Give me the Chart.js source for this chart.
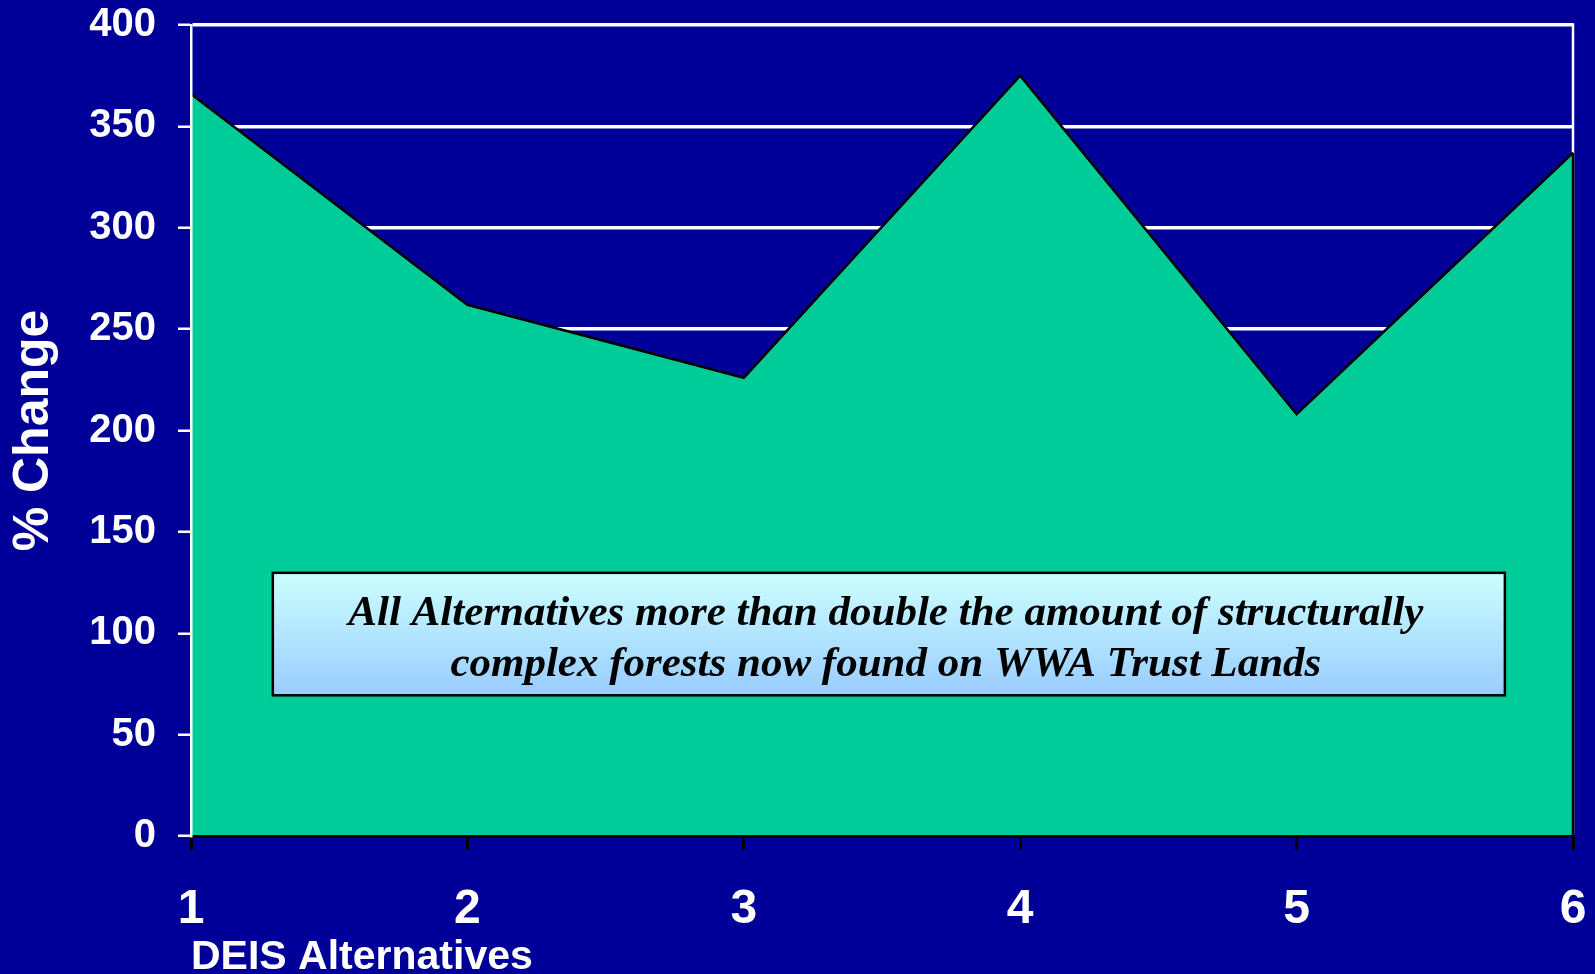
<!DOCTYPE html>
<html>
<head>
<meta charset="utf-8">
<title>% Change by DEIS Alternative</title>
<script src="https://cdn.jsdelivr.net/npm/chart.js@4.4.1/dist/chart.umd.min.js"></script>
<style>
  html, body { margin: 0; padding: 0; background: #000099; overflow: hidden; }
  #wrap { position: relative; width: 1595px; height: 974px; }
</style>
</head>
<body>
<div id="wrap"><canvas id="chart"></canvas></div>
<script>
// Alternatives on the x axis and the percent change for each
const alternatives = ['1', '2', '3', '4', '5', '6'];
const percentChange = [366, 262, 226, 375, 208, 337];
const yTickValues = [0, 50, 100, 150, 200, 250, 300, 350, 400];

const yTitle = '% Change';
const xTitle = 'DEIS Alternatives';
const noteLines = [
  'All Alternatives more than double the amount of structurally',
  'complex forests now found on WWA Trust Lands'
];

const SANS = "'Liberation Sans', Arial, Helvetica, sans-serif";
const SERIF = "'Liberation Serif', 'Times New Roman', Times, serif";

// White frame line on the right of the plot, behind the area
const frameBehind = {
  id: 'frameBehind',
  beforeDatasetsDraw(chart) {
    const { ctx, chartArea: a } = chart;
    ctx.save();
    ctx.strokeStyle = '#ffffff';
    ctx.lineWidth = 2.5;
    ctx.beginPath();
    ctx.moveTo(a.right, a.top - 1.75);
    ctx.lineTo(a.right, a.bottom);
    ctx.stroke();
    ctx.restore();
  }
};

// Black edge closing the area on the right, and the note box
const areaEdgeAndNote = {
  id: 'areaEdgeAndNote',
  afterDatasetsDraw(chart) {
    const { ctx, chartArea: a } = chart;
    const pts = chart.getDatasetMeta(0).data;
    const last = pts[pts.length - 1];
    ctx.save();
    ctx.strokeStyle = '#000000';
    ctx.lineWidth = 2.5;
    ctx.beginPath();
    ctx.moveTo(last.x, last.y);
    ctx.lineTo(last.x, a.bottom);
    ctx.stroke();

    // Note box
    const w = a.right - a.left, h = a.bottom - a.top;
    const bx = a.left + w * 0.0592;
    const bw = w * 0.8915;
    const by = a.top + h * 0.6755;
    const bh = h * 0.151;
    const grad = ctx.createLinearGradient(0, by, 0, by + bh);
    grad.addColorStop(0, '#ccffff');
    grad.addColorStop(1, '#99ccff');
    ctx.fillStyle = grad;
    ctx.fillRect(bx, by, bw, bh);
    ctx.strokeStyle = '#000000';
    ctx.lineWidth = 2.5;
    ctx.strokeRect(bx, by, bw, bh);

    ctx.fillStyle = '#000000';
    ctx.font = "italic bold 43px " + SERIF;
    ctx.textAlign = 'center';
    ctx.textBaseline = 'alphabetic';
    const cx = bx + bw / 2 - 3;
    ctx.fillText(noteLines[0], cx, by + 52);
    ctx.fillText(noteLines[1], cx, by + 103);
    ctx.restore();
  }
};

new Chart(document.getElementById('chart'), {
  type: 'line',
  data: {
    labels: alternatives,
    datasets: [{
      data: percentChange,
      borderColor: '#000000',
      borderWidth: 2.5,
      backgroundColor: '#00cc99',
      fill: 'origin',
      tension: 0,
      pointRadius: 0,
      pointHoverRadius: 0
    }]
  },
  options: {
    responsive: true,
    maintainAspectRatio: false,
    animation: false,
    events: [],
    layout: { padding: { top: 25, right: 22, bottom: 0, left: 0 } },
    plugins: {
      legend: { display: false },
      tooltip: { enabled: false }
    },
    scales: {
      x: {
        type: 'category',
        offset: false,
        afterFit(scale) {
          scale.height = 138;
          scale.paddingLeft = 0;
          scale.paddingRight = 0;
        },
        grid: {
          display: true,
          drawOnChartArea: false,
          color: '#000000',
          lineWidth: 3,
          tickLength: 14,
          z: 1
        },
        border: { display: true, color: '#000000', width: 3, z: 1 },
        ticks: {
          color: '#ffffff',
          padding: 31,
          maxRotation: 0,
          autoSkip: false,
          font: { family: SANS, size: 48, weight: 'bold' }
        },
        title: {
          display: true,
          text: xTitle,
          align: 'start',
          color: '#ffffff',
          padding: 0,
          font: { family: SANS, size: 41, weight: 'bold', lineHeight: 0.8 }
        }
      },
      y: {
        min: 0,
        max: 400,
        afterFit(scale) {
          scale.width = 191;
          scale.paddingTop = 0;
          scale.paddingBottom = 0;
        },
        afterBuildTicks(scale) { scale.ticks = yTickValues.map(v => ({ value: v })); },
        grid: {
          color: '#ffffff',
          lineWidth: 3.5,
          tickLength: 13,
          tickColor: '#ffffff',
          tickWidth: 2.5
        },
        border: { display: true, color: '#ffffff', width: 2.5, z: 1 },
        ticks: {
          color: '#ffffff',
          padding: 22,
          font: { family: SANS, size: 40, weight: 'bold' }
        },
        title: {
          display: true,
          text: yTitle,
          color: '#ffffff',
          padding: { top: 4, bottom: 0 },
          font: { family: SANS, size: 50, weight: 'bold', lineHeight: 1.2 }
        }
      }
    }
  },
  plugins: [frameBehind, areaEdgeAndNote]
});
</script>
</body>
</html>
